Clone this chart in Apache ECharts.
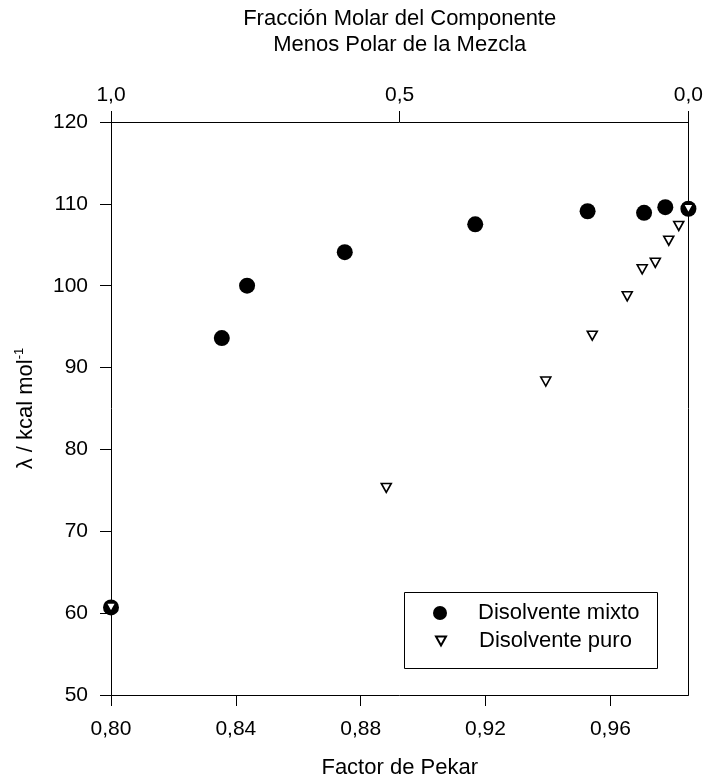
<!DOCTYPE html>
<html>
<head>
<meta charset="utf-8">
<script src="https://cdn.jsdelivr.net/npm/echarts@6/dist/echarts.min.js"></script>
<style>
  html, body { margin: 0; padding: 0; background: #fff; }
  #chart { width: 706px; height: 784px; }
</style>
</head>
<body>
<div id="chart"></div>
<script>
// Disolvente mixto (filled circles)
const pekarMixto = [0.800, 0.8355, 0.8436, 0.8749, 0.9167, 0.9527, 0.9708, 0.9776, 0.985];
const lambdaMixto = [60.7, 93.6, 100.0, 104.1, 107.5, 109.1, 108.9, 109.6, 109.4];

// Disolvente puro (open down-triangles)
const pekarPuro = [0.800, 0.8882, 0.9393, 0.9542, 0.9654, 0.9702, 0.9744, 0.9787, 0.9819, 0.985];
const lambdaPuro = [60.7, 75.3, 88.3, 93.9, 98.7, 102.0, 102.8, 105.5, 107.3, 109.4];

// tick labels
const pekarTicks = [0.80, 0.84, 0.88, 0.92, 0.96];
const fraccionTicks = [1.0, 0.5, 0.0];

const FONT = "'Liberation Sans', Arial, sans-serif";
const comma = (v, d) => v.toFixed(d).replace(".", ",");
const downTriangle = "path://M0,0 L10,0 L5,9 Z";

const chart = echarts.init(document.getElementById("chart"));

// onZero off, otherwise the 0..1 top axis drags the y axis line to the right edge
const axisLine = { show: true, onZero: false, lineStyle: { color: "#000", width: 1 } };
const tickOut = { show: true, inside: false, length: 11, lineStyle: { color: "#000", width: 1 } };

chart.setOption({
  backgroundColor: "#fff",
  animation: false,
  textStyle: { fontFamily: FONT, color: "#000" },
  grid: { left: 111, right: 17, top: 122, bottom: 86 },
  xAxis: [
    {
      type: "value",
      position: "bottom",
      min: 0.80,
      max: 0.985,
      interval: 0.04,
      name: "Factor de Pekar",
      nameLocation: "middle",
      nameGap: 62,
      nameTextStyle: { fontFamily: FONT, fontSize: 22, color: "#000" },
      axisLine: axisLine,
      axisTick: Object.assign({ customValues: pekarTicks }, tickOut),
      axisLabel: {
        customValues: pekarTicks,
        margin: 24,
        fontFamily: FONT,
        fontSize: 21,
        color: "#000",
        formatter: (v) => comma(v, 2)
      },
      splitLine: { show: false }
    },
    {
      type: "value",
      position: "top",
      min: 0,
      max: 1,
      interval: 0.5,
      inverse: true,
      name: "Fracción Molar del Componente\nMenos Polar de la Mezcla",
      nameLocation: "middle",
      nameGap: 64,
      nameTextStyle: { fontFamily: FONT, fontSize: 22, color: "#000", lineHeight: 26 },
      axisLine: axisLine,
      axisTick: Object.assign({ customValues: fraccionTicks }, tickOut),
      axisLabel: {
        customValues: fraccionTicks,
        margin: 16,
        fontFamily: FONT,
        fontSize: 21,
        color: "#000",
        formatter: (v) => comma(v, 1)
      },
      splitLine: { show: false }
    }
  ],
  yAxis: [
    {
      type: "value",
      position: "left",
      min: 50,
      max: 120,
      interval: 10,
      name: "{a|λ / kcal mol}{s|-1}",
      nameLocation: "middle",
      nameGap: 72,
      nameRotate: 90,
      nameTextStyle: {
        rich: {
          a: { fontFamily: FONT, fontSize: 22, color: "#000", lineHeight: 26 },
          s: { fontFamily: FONT, fontSize: 13, color: "#000", verticalAlign: "top", lineHeight: 26 }
        }
      },
      axisLine: axisLine,
      axisTick: tickOut,
      axisLabel: { margin: 23, fontFamily: FONT, fontSize: 21, color: "#000" },
      splitLine: { show: false }
    },
    {
      // right frame line only
      type: "value",
      position: "right",
      min: 50,
      max: 120,
      interval: 10,
      axisLine: axisLine,
      axisTick: { show: false },
      axisLabel: { show: false },
      splitLine: { show: false }
    }
  ],
  legend: [
    {
      data: ["Disolvente mixto"],
      left: 433,
      top: 602,
      padding: 0,
      itemWidth: 14,
      itemHeight: 14,
      textStyle: { fontFamily: FONT, fontSize: 22, color: "#000", padding: [0, 0, 0, 26] }
    },
    {
      data: [{ name: "Disolvente puro", icon: downTriangle }],
      left: 435,
      top: 630,
      padding: 0,
      itemWidth: 10,
      itemHeight: 9,
      textStyle: { fontFamily: FONT, fontSize: 22, color: "#000", padding: [0, 0, 0, 28] }
    }
  ],
  graphic: [
    {
      type: "rect",
      left: 402,
      top: 590,
      shape: { width: 253, height: 76 },
      style: { fill: "none", stroke: "#000", lineWidth: 1 },
      z: 10
    }
  ],
  series: [
    {
      name: "Disolvente mixto",
      type: "scatter",
      xAxisIndex: 0,
      yAxisIndex: 0,
      clip: false,
      symbol: "circle",
      symbolSize: 16,
      itemStyle: { color: "#000", opacity: 1 },
      data: pekarMixto.map((x, i) => [x, lambdaMixto[i]]),
      z: 3
    },
    {
      name: "Disolvente puro",
      type: "scatter",
      xAxisIndex: 0,
      yAxisIndex: 0,
      clip: false,
      symbol: "triangle",
      symbolRotate: 180,
      symbolSize: [10, 9],
      itemStyle: { color: "#fff", borderColor: "#000", borderWidth: 1.6, opacity: 1 },
      data: pekarPuro.map((x, i) => [x, lambdaPuro[i]]),
      z: 4
    }
  ]
});
</script>
</body>
</html>
